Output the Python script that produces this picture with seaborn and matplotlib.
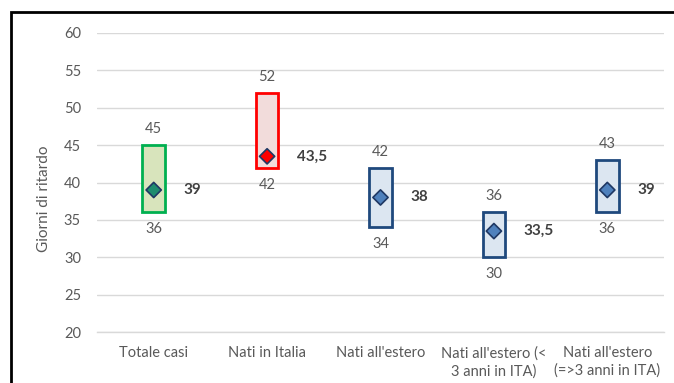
import matplotlib
matplotlib.use("Agg")
import matplotlib.pyplot as plt
import seaborn as sns
import pandas as pd
from matplotlib.patches import Rectangle

categories = ["Totale casi", "Nati in Italia", "Nati all'estero",
              "Nati all'estero (<\n3 anni in ITA)", "Nati all'estero\n(=>3 anni in ITA)"]
low = [36, 42, 34, 30, 36]
high = [45, 52, 42, 36, 43]
median = [39, 43.5, 38, 33.5, 39]
median_labels = ["39", "43,5", "38", "33,5", "39"]
edge_colors = ["#00B050", "#FF0000", "#1F497D", "#1F497D", "#1F497D"]
fill_colors = ["#D8E4BC", "#F2DCDB", "#DCE6F1", "#DCE6F1", "#DCE6F1"]
marker_colors = ["#1E8C6E", "#FF0000", "#4F81BD", "#4F81BD", "#4F81BD"]

sns.set_style("white")
plt.rcParams["font.family"] = ["Lato", "DejaVu Sans"]

df = pd.DataFrame({"cat": categories, "low": low, "high": high, "median": median})
df["x"] = range(len(df))

fig = plt.figure(figsize=(6.74, 3.83), dpi=100)
ax = fig.add_axes([97/674, 1-332/383, (664-97)/674, (332-33)/383])

ax.set_ylim(20, 60)
ax.set_xlim(-0.5, len(categories)-0.5)
ax.set_yticks(range(20, 61, 5))
ax.yaxis.grid(True, color="#D9D9D9", linewidth=1)
ax.set_axisbelow(True)
for s in ["left", "right", "top"]:
    ax.spines[s].set_visible(False)
ax.spines["bottom"].set_color("#D9D9D9")
ax.spines["bottom"].set_linewidth(1)

ax.bar(df["x"], df["high"] - df["low"], bottom=df["low"], width=0.2,
       color=fill_colors, edgecolor=edge_colors, linewidth=2, zorder=2)

sns.scatterplot(data=df, x="x", y="median", hue="cat", palette=marker_colors,
                marker="D", s=60, edgecolor="#1F3864", linewidth=1.2,
                legend=False, ax=ax, zorder=3)

fs = 10.5
for i in range(len(df)):
    ax.annotate(str(high[i]), (i, high[i]), xytext=(0, 16), textcoords="offset pixels",
                ha="center", va="center", fontsize=fs, color="#595959")
    ax.annotate(str(low[i]), (i, low[i]), xytext=(0, -17), textcoords="offset pixels",
                ha="center", va="center", fontsize=fs, color="#595959")
    ax.annotate(median_labels[i], (i, median[i]), xytext=(30, 0), textcoords="offset pixels",
                ha="left", va="center", fontsize=11, color="#404040", fontweight="bold")

ax.set_xticks(range(len(categories)))
ax.set_xticklabels(categories, fontsize=fs, color="#595959", linespacing=1.35)
ax.tick_params(axis="x", which="major", length=0, pad=10)
ax.set_xticks([i + 0.5 for i in range(-1, len(categories))], minor=True)
ax.tick_params(axis="x", which="minor", length=5, color="#D9D9D9", width=1)
ax.tick_params(axis="y", length=0, pad=11.5, labelsize=fs, labelcolor="#595959")
ax.set_xlabel("")
ax.set_ylabel("Giorni di ritardo", fontsize=11, color="#595959")
ax.yaxis.set_label_coords(-0.081, 0.445)

fig.patches.append(Rectangle((11/674, -0.2), 2, 0.2 + 1 - 12/383, transform=fig.transFigure,
                             fill=False, edgecolor="black", linewidth=2, clip_on=False))

fig.savefig("out.png", dpi=100)
